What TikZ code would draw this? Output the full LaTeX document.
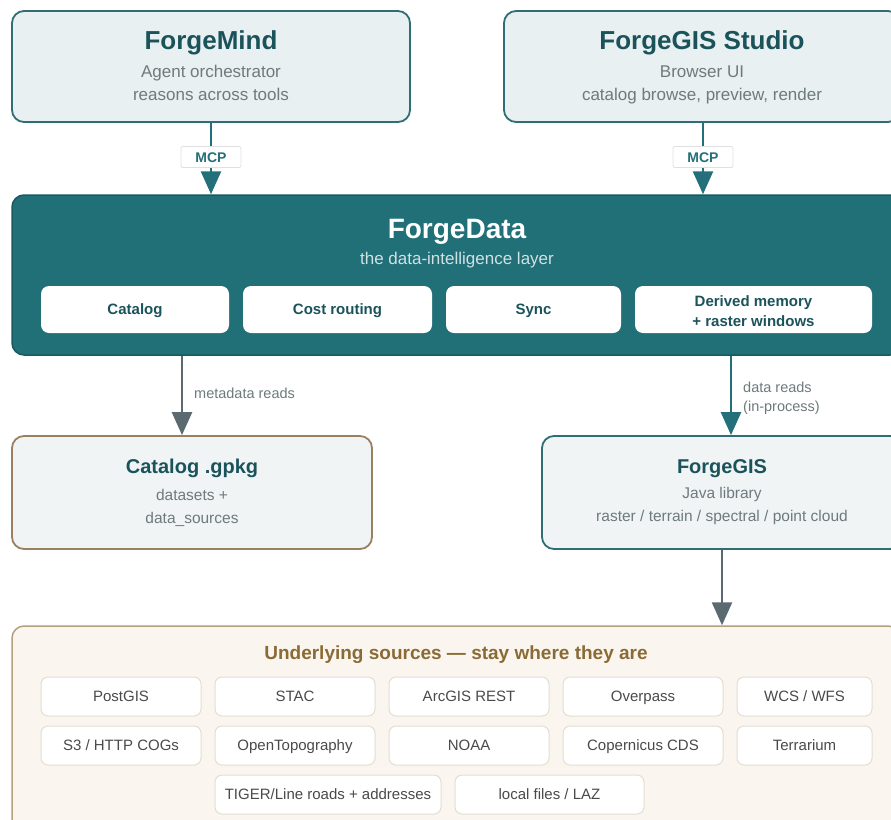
\documentclass[tikz,border=0pt]{standalone}
\usepackage{fontspec}
\setmainfont{Liberation Sans}
\usetikzlibrary{arrows.meta}
\definecolor{tealfill}{HTML}{216F77}
\definecolor{tealborder}{HTML}{185A61}
\definecolor{topfill}{HTML}{E8F0F2}
\definecolor{topborder}{HTML}{2F6E75}
\definecolor{titlecol}{HTML}{1B535B}
\definecolor{subcol}{HTML}{6E7A7C}
\definecolor{arrowgray}{HTML}{5B6A70}
\definecolor{arrowteal}{HTML}{23707A}
\definecolor{catfill}{HTML}{F0F4F5}
\definecolor{catborder}{HTML}{9A8060}
\definecolor{srcfill}{HTML}{FAF6EF}
\definecolor{srcborder}{HTML}{B49F7F}
\definecolor{srctitle}{HTML}{8A6A35}
\definecolor{itemborder}{HTML}{E4DDD0}
\definecolor{itemtext}{HTML}{4A4A4A}
\definecolor{lightsub}{HTML}{CFE2E4}
\tikzset{
  x=1pt, y=-1pt,
  boxbase/.style={rectangle, rounded corners=12pt, inner sep=0pt},
  topbox/.style={boxbase, draw=topborder, fill=topfill, line width=1.8pt},
  databox/.style={boxbase, draw=tealborder, fill=tealfill, line width=1.5pt},
  innerbox/.style={rectangle, rounded corners=8pt, fill=white, inner sep=0pt, minimum height=47pt},
  catbox/.style={boxbase, draw=catborder, fill=catfill, line width=1.8pt},
  gisbox/.style={boxbase, draw=topborder, fill=catfill, line width=1.8pt},
  srcbox/.style={boxbase, draw=srcborder, fill=srcfill, line width=1.5pt},
  itembox/.style={rectangle, rounded corners=7pt, draw=itemborder, fill=white, line width=1pt, minimum height=39pt, inner sep=0pt},
  itemtxt/.style={text height=10.8pt, text depth=0pt, inner sep=0pt, text=itemtext, font=\fontsize{15}{18}\selectfont},
  bigtitle/.style={text height=18.7pt, text depth=0pt, text=titlecol, font=\fontsize{26}{30}\selectfont\bfseries, inner sep=0pt},
  midtitle/.style={text height=14.4pt, text depth=0pt, text=titlecol, font=\fontsize{20}{24}\selectfont\bfseries, inner sep=0pt},
  subtxt/.style={text height=12.2pt, text depth=0pt, text=subcol, font=\fontsize{17}{20}\selectfont, inner sep=0pt},
  smalltxt/.style={text height=11.2pt, text depth=0pt, text=subcol, font=\fontsize{15.5}{18}\selectfont, inner sep=0pt},
  innertxt/.style={text height=10.8pt, text depth=0pt, inner sep=0pt, text=titlecol, font=\fontsize{15}{18}\selectfont\bfseries},
  mcpbox/.style={rectangle, rounded corners=2pt, draw=black!12, fill=white, line width=0.8pt, minimum width=60pt, minimum height=21pt, inner sep=0pt},
  mcptxt/.style={text height=10.1pt, text depth=0pt, inner sep=0pt, text=arrowteal, font=\fontsize{14}{16}\selectfont\bfseries},
  edgelabel/.style={text height=10.4pt, text depth=0pt, text=subcol, font=\fontsize{14.5}{19}\selectfont, inner sep=0pt, anchor=west},
  tealarrow/.style={draw=arrowteal, line width=2.5pt, -{Triangle[length=23pt,width=20pt]}},
  grayarrow/.style={draw=arrowgray, line width=2.5pt, -{Triangle[length=23pt,width=20pt]}},
}
\begin{document}
\begin{tikzpicture}
\useasboundingbox (0,0) rectangle (891,819);
\clip (0,0) rectangle (891,819);
\fill[white] (0,0) rectangle (891,819);

% top boxes
\node[topbox, minimum width=398pt, minimum height=111pt] (mind) at (211,66.5) {};
\node[bigtitle] (mindt) at (211,40) {ForgeMind};
\node[subtxt] (minds1) at (211,71) {Agent orchestrator};
\node[subtxt] (minds2) at (211,94) {reasons across tools};

\node[topbox, minimum width=396pt, minimum height=111pt] (studio) at (702,66.5) {};
\node[bigtitle] (studiot) at (702,40) {ForgeGIS Studio};
\node[subtxt] (studios1) at (702,71) {Browser UI};
\node[subtxt] (studios2) at (702,94) {catalog browse, preview, render};

% ForgeData
\node[databox, minimum width=890pt, minimum height=160pt] (fd) at (457,275) {};
\node[text height=20.2pt, text depth=0pt, text=white, font=\fontsize{28}{30}\selectfont\bfseries, inner sep=0pt] (fdt) at (457,228) {ForgeData};
\node[text height=12.2pt, text depth=0pt, text=lightsub, font=\fontsize{17}{19}\selectfont, inner sep=0pt] (fds) at (457,258) {the data-intelligence layer};
\node[innerbox, minimum width=188pt] (ic1) at (135,309.5) {};
\node[innertxt] at (ic1) {Catalog};
\node[innerbox, minimum width=189pt] (ic2) at (337.5,309.5) {};
\node[innertxt] at (ic2) {Cost routing};
\node[innerbox, minimum width=175pt] (ic3) at (533.5,309.5) {};
\node[innertxt] at (ic3) {Sync};
\node[innerbox, minimum width=237pt] (ic4) at (753.5,309.5) {};
\node[innertxt] (ic4a) at (753.5,301) {Derived memory};
\node[innertxt] (ic4b) at (753.5,321) {+ raster windows};

% MCP arrows
\draw[tealarrow] (mind.south) -- (fd.north -| mind.south);
\node[mcpbox] (mcp1) at (211,157) {};
\node[mcptxt] at (mcp1) {MCP};
\coordinate (sx) at (703,0);
\draw[tealarrow] (studio.south -| sx) -- (fd.north -| sx);
\node[mcpbox] (mcp2) at (703,157) {};
\node[mcptxt] at (mcp2) {MCP};

% middle boxes
\node[catbox, minimum width=360pt, minimum height=113pt] (cat) at (192,492.5) {};
\node[midtitle] (catt) at (192,466) {Catalog .gpkg};
\node[smalltxt] (cats1) at (192,495) {datasets +};
\node[smalltxt] (cats2) at (192,518) {data\_sources};

\node[gisbox, minimum width=360pt, minimum height=113pt] (gis) at (722,492.5) {};
\node[midtitle] (gist) at (722,466) {ForgeGIS};
\node[smalltxt] (giss1) at (722,493) {Java library};
\node[smalltxt] (giss2) at (722,516) {raster / terrain / spectral / point cloud};

% arrows to middle
\coordinate (mx) at (182,0);
\draw[grayarrow] (fd.south -| mx) -- (cat.north -| mx);
\node[edgelabel] (ml) at (194,393) {metadata reads};
\coordinate (dx) at (731,0);
\draw[tealarrow] (fd.south -| dx) -- (gis.north -| dx);
\node[edgelabel] (dl1) at (743,387) {data reads};
\node[edgelabel] (dl2) at (743,406) {(in-process)};

% sources
\node[srcbox, minimum width=888pt, minimum height=210pt] (src) at (456,731) {};
\draw[grayarrow] (gis.south) -- (src.north -| gis.south);
\node[text height=13.7pt, text depth=0pt, text=srctitle, font=\fontsize{19}{22}\selectfont\bfseries, inner sep=0pt] (srct) at (456,653) {Underlying sources — stay where they are};

\node[itembox, minimum width=160pt] (s1) at (121,696.5) {};
\node[itemtxt] at (s1) {PostGIS};
\node[itembox, minimum width=160pt] (s2) at (295,696.5) {};
\node[itemtxt] at (s2) {STAC};
\node[itembox, minimum width=160pt] (s3) at (469,696.5) {};
\node[itemtxt] at (s3) {ArcGIS REST};
\node[itembox, minimum width=160pt] (s4) at (643,696.5) {};
\node[itemtxt] at (s4) {Overpass};
\node[itembox, minimum width=135pt] (s5) at (804.5,696.5) {};
\node[itemtxt] at (s5) {WCS / WFS};
\node[itembox, minimum width=160pt] (s6) at (121,745.5) {};
\node[itemtxt] at (s6) {S3 / HTTP COGs};
\node[itembox, minimum width=160pt] (s7) at (295,745.5) {};
\node[itemtxt] at (s7) {OpenTopography};
\node[itembox, minimum width=160pt] (s8) at (469,745.5) {};
\node[itemtxt] at (s8) {NOAA};
\node[itembox, minimum width=160pt] (s9) at (643,745.5) {};
\node[itemtxt] at (s9) {Copernicus CDS};
\node[itembox, minimum width=135pt] (s10) at (804.5,745.5) {};
\node[itemtxt] at (s10) {Terrarium};
\node[itembox, minimum width=226pt] (s11) at (328,794.5) {};
\node[itemtxt] at (s11) {TIGER/Line roads + addresses};
\node[itembox, minimum width=189pt] (s12) at (549.5,794.5) {};
\node[itemtxt] at (s12) {local files / LAZ};
\end{tikzpicture}
\end{document}
